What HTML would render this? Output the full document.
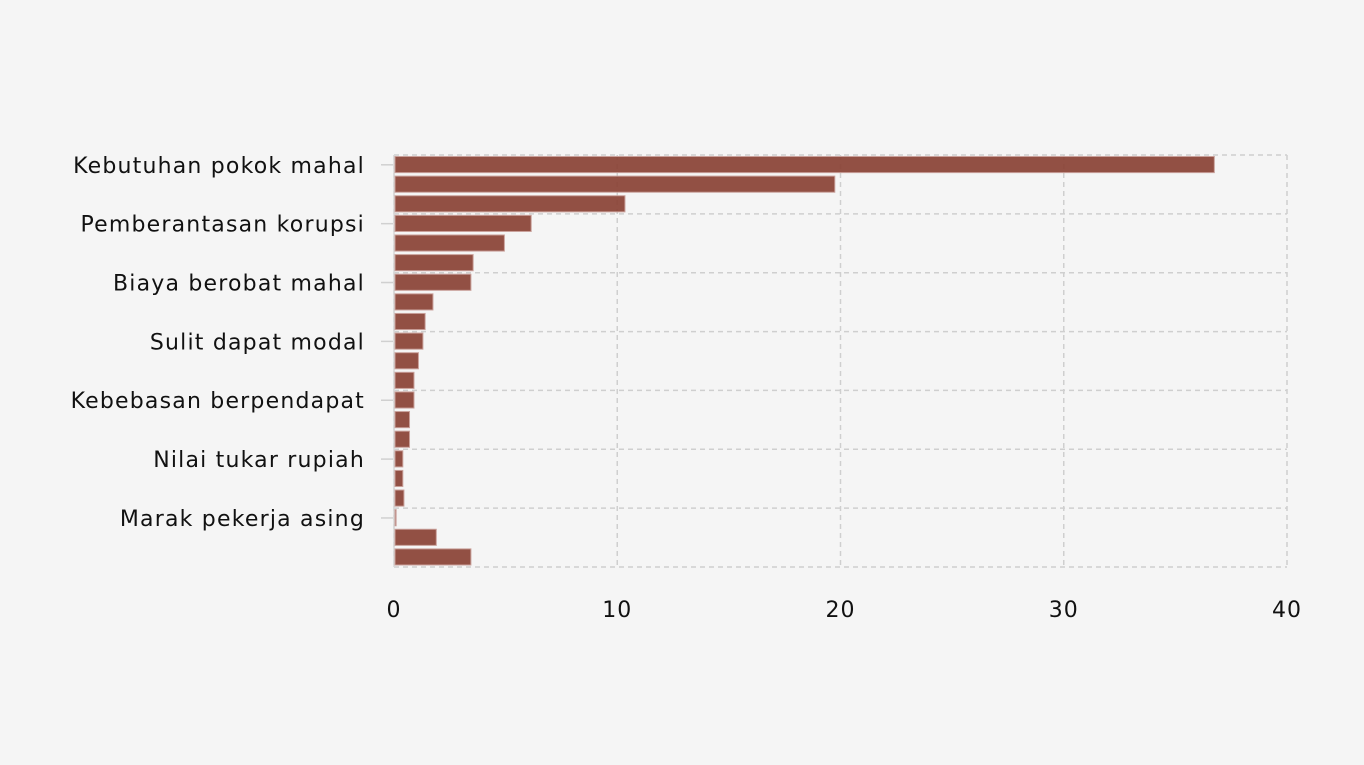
<!DOCTYPE html>
<html><head><meta charset="utf-8"><style>
body{margin:0;background:#f5f5f5;}
svg{display:block;font-family:"DejaVu Sans","Liberation Sans",sans-serif;}
</style></head><body>
<svg id="chart" width="1364" height="765"></svg>
<script>
const categories=["Kebutuhan pokok mahal","c2","c3","Pemberantasan korupsi","c5","c6","Biaya berobat mahal","c8","c9","Sulit dapat modal","c11","c12","Kebebasan berpendapat","c14","c15","Nilai tukar rupiah","c17","c18","Marak pekerja asing","c20","c21"];
const labeled=[0,3,6,9,12,15,18];
const values=[36.7,19.7,10.3,6.1,4.9,3.5,3.4,1.7,1.35,1.25,1.05,0.85,0.85,0.65,0.65,0.35,0.35,0.4,0.05,1.85,3.4];
const xTicks=[0,10,20,30,40];
const NS="http://www.w3.org/2000/svg";
const svg=document.getElementById('chart');
const L=394,R=1287,T=155,B=567,xMax=40;
const x=v=>L+(v/xMax)*(R-L);
const pitch=(B-T)/categories.length;
const yTop=i=>T+i*pitch;
function mk(tag,attrs,parent){const e=document.createElementNS(NS,tag);for(const k in attrs)e.setAttribute(k,attrs[k]);(parent||svg).appendChild(e);return e;}
const grid=mk('g',{});


xTicks.forEach(t=>{
  const l=mk('line',{x1:x(t),x2:x(t),y1:T,y2:B,stroke:'#cfcfcf','stroke-width':1.5,'stroke-dasharray':'5,4'},grid);
  
  
  const tx=mk('text',{x:x(t),y:617,'text-anchor':'middle','font-size':22,'letter-spacing':1,fill:'#111'});
  tx.textContent=t;
  
  
});
for(let i=0;i<=categories.length;i+=3){
  const l=mk('line',{x1:L,x2:R,y1:yTop(i),y2:yTop(i),stroke:'#cfcfcf','stroke-width':1.5,'stroke-dasharray':'5,4'},grid);
  
  
}
const ax=mk('line',{x1:L,x2:L,y1:T,y2:B,stroke:'#d8d8d8','stroke-width':1.5});


values.forEach((v,i)=>{
  const r=mk('rect',{x:x(0)+1,y:yTop(i)+1.5,width:Math.max(0.5,x(v)-x(0)),height:pitch-3.5,fill:'#8a4336','fill-opacity':0.93,stroke:'#c9a09a','stroke-width':1});
  
  
});
labeled.forEach(i=>{
  const cy=yTop(i)+pitch/2;
  const tk=mk('line',{x1:381,x2:393,y1:cy,y2:cy,stroke:'#d0d0d0','stroke-width':1.5});
  
  
  const t=mk('text',{x:365,y:cy+8,'text-anchor':'end','font-size':22,'letter-spacing':1.2,fill:'#111'});
  t.textContent=categories[i];
  
  
});
</script>
</body></html>
